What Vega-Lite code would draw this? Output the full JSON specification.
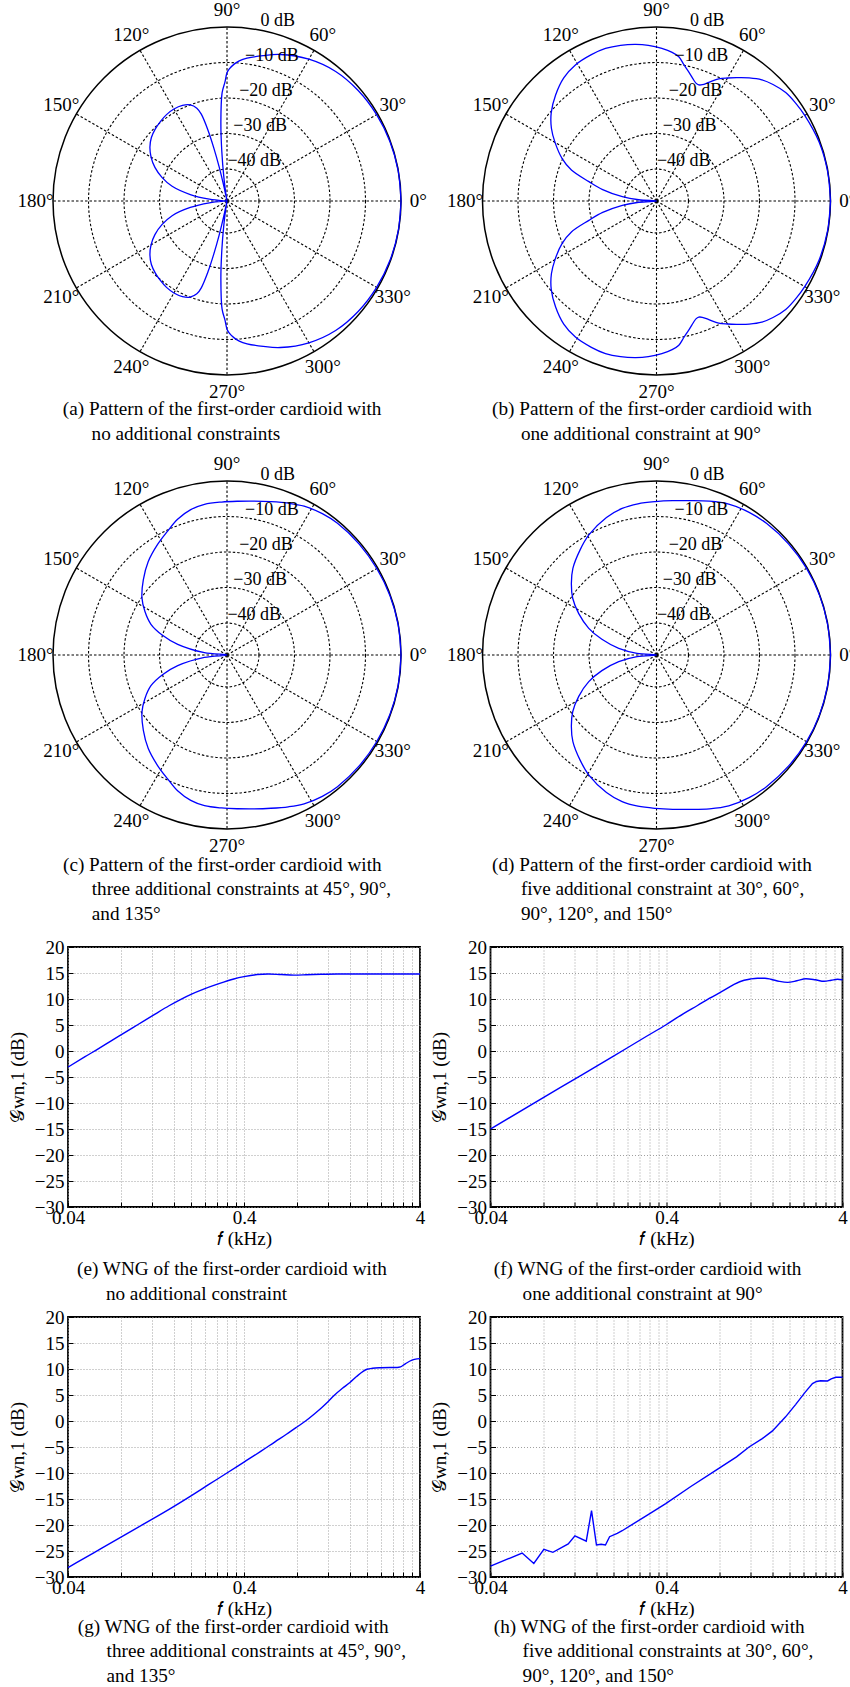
{
"$schema": "https://vega.github.io/schema/vega-lite/v6.json",
"padding": {"left": 7, "top": 0, "right": 0, "bottom": 0},
"bounds": "flush",
"align": "each",
"columns": 2,
"spacing": {"row": 110, "column": 70.5},
"config": {
  "view": {"stroke": null},
  "font": "Liberation Serif",
  "axis": {"labelFont": "Liberation Serif", "titleFont": "Liberation Serif", "labelFontSize": 19, "titleFontSize": 19, "titleFontWeight": "normal", "labelColor": "black", "titleColor": "black", "domain": false, "grid": true, "gridColor": "#a0a0a0", "gridDash": [1, 2], "gridWidth": 1, "tickColor": "black", "tickWidth": 1, "labelFlush": false, "labelOverlap": false},
  "axisX": {"labelPadding": 6, "titlePadding": 2},
  "axisY": {"labelPadding": 9, "titlePadding": 7},
  "title": {"font": "Liberation Serif", "fontSize": 19.2, "fontWeight": "normal", "color": "black", "anchor": "start", "frame": "group", "lineHeight": 24.5},
  "text": {"font": "Liberation Serif", "fontSize": 19, "color": "black"}
},
"datasets": {
  "angles": [{"a":0,"t":"0°"},{"a":30,"t":"30°"},{"a":60,"t":"60°"},{"a":90,"t":"90°"},{"a":120,"t":"120°"},{"a":150,"t":"150°"},{"a":180,"t":"180°"},{"a":210,"t":"210°"},{"a":240,"t":"240°"},{"a":270,"t":"270°"},{"a":300,"t":"300°"},{"a":330,"t":"330°"}],
  "spokes": [{"a":0,"lvl":-49},{"a":0,"lvl":0},{"a":30,"lvl":-49},{"a":30,"lvl":0},{"a":60,"lvl":-49},{"a":60,"lvl":0},{"a":90,"lvl":-49},{"a":90,"lvl":0},{"a":120,"lvl":-49},{"a":120,"lvl":0},{"a":150,"lvl":-49},{"a":150,"lvl":0},{"a":180,"lvl":-49},{"a":180,"lvl":0},{"a":210,"lvl":-49},{"a":210,"lvl":0},{"a":240,"lvl":-49},{"a":240,"lvl":0},{"a":270,"lvl":-49},{"a":270,"lvl":0},{"a":300,"lvl":-49},{"a":300,"lvl":0},{"a":330,"lvl":-49},{"a":330,"lvl":0}],
  "rings": [{"lvl":-10},{"lvl":-20},{"lvl":-30},{"lvl":-40}],
  "outer": [{"lvl":0}],
  "dbl": [{"lvl":0,"t":"0 dB"},{"lvl":-10,"t":"−10 dB"},{"lvl":-20,"t":"−20 dB"},{"lvl":-30,"t":"−30 dB"},{"lvl":-40,"t":"−40 dB"}],
  "pa": [{"a":0,"lvl":0},{"a":10,"lvl":-0.05},{"a":20,"lvl":-0.15},{"a":30,"lvl":-0.35},{"a":40,"lvl":-0.7},{"a":50,"lvl":-1.4},{"a":60,"lvl":-2.9},{"a":70,"lvl":-5.1},{"a":76,"lvl":-6.8},{"a":82,"lvl":-8.4},{"a":85,"lvl":-9.4},{"a":87,"lvl":-10.4},{"a":89,"lvl":-11.8},{"a":90,"lvl":-12.9},{"a":91,"lvl":-15.5},{"a":92.6,"lvl":-18.5},{"a":94.5,"lvl":-27},{"a":96,"lvl":-35},{"a":97.5,"lvl":-42},{"a":99,"lvl":-47},{"a":100.5,"lvl":-49},{"a":102,"lvl":-45},{"a":103,"lvl":-39},{"a":104,"lvl":-33.5},{"a":105,"lvl":-28.5},{"a":106.5,"lvl":-23.5},{"a":108,"lvl":-21.5},{"a":111,"lvl":-20},{"a":115,"lvl":-19.3},{"a":120,"lvl":-19.1},{"a":125,"lvl":-19.3},{"a":130,"lvl":-19.8},{"a":135,"lvl":-20.4},{"a":140,"lvl":-21.2},{"a":145,"lvl":-22.5},{"a":150,"lvl":-24.3},{"a":155,"lvl":-26.6},{"a":160,"lvl":-29.5},{"a":165,"lvl":-33},{"a":170,"lvl":-38.5},{"a":174,"lvl":-44},{"a":177,"lvl":-48},{"a":180,"lvl":-49},{"a":183,"lvl":-48},{"a":186,"lvl":-44},{"a":190,"lvl":-38.5},{"a":195,"lvl":-33},{"a":200,"lvl":-29.5},{"a":205,"lvl":-26.6},{"a":210,"lvl":-24.3},{"a":215,"lvl":-22.5},{"a":220,"lvl":-21.2},{"a":225,"lvl":-20.4},{"a":230,"lvl":-19.8},{"a":235,"lvl":-19.3},{"a":240,"lvl":-19.1},{"a":245,"lvl":-19.3},{"a":249,"lvl":-20},{"a":252,"lvl":-21.5},{"a":253.5,"lvl":-23.5},{"a":255,"lvl":-28.5},{"a":256,"lvl":-33.5},{"a":257,"lvl":-39},{"a":258,"lvl":-45},{"a":259.5,"lvl":-49},{"a":261,"lvl":-47},{"a":262.5,"lvl":-42},{"a":264,"lvl":-35},{"a":265.5,"lvl":-27},{"a":267.4,"lvl":-18.5},{"a":269,"lvl":-15.5},{"a":270,"lvl":-12.9},{"a":271,"lvl":-11.8},{"a":273,"lvl":-10.4},{"a":275,"lvl":-9.4},{"a":278,"lvl":-8.4},{"a":284,"lvl":-6.8},{"a":290,"lvl":-5.1},{"a":300,"lvl":-2.9},{"a":310,"lvl":-1.4},{"a":320,"lvl":-0.7},{"a":330,"lvl":-0.35},{"a":340,"lvl":-0.15},{"a":350,"lvl":-0.05},{"a":360,"lvl":0}],
  "pb": [{"a":0,"lvl":0},{"a":10,"lvl":-0.1},{"a":20,"lvl":-0.3},{"a":30,"lvl":-0.8},{"a":35,"lvl":-1.1},{"a":40,"lvl":-1.5},{"a":45,"lvl":-2.6},{"a":49,"lvl":-3.8},{"a":53,"lvl":-5.6},{"a":57,"lvl":-7.6},{"a":60,"lvl":-9.0},{"a":63,"lvl":-10.4},{"a":66.2,"lvl":-12.5},{"a":68.5,"lvl":-13.8},{"a":70,"lvl":-14.2},{"a":71.5,"lvl":-14.0},{"a":72.9,"lvl":-13.35},{"a":76,"lvl":-11.5},{"a":78.7,"lvl":-9.8},{"a":81.2,"lvl":-7.9},{"a":84,"lvl":-6.9},{"a":88,"lvl":-6.0},{"a":93,"lvl":-5.1},{"a":97.6,"lvl":-4.5},{"a":103,"lvl":-4.0},{"a":108.5,"lvl":-3.7},{"a":114,"lvl":-3.9},{"a":120.8,"lvl":-4.4},{"a":127,"lvl":-5.6},{"a":133.6,"lvl":-7.8},{"a":140,"lvl":-10.3},{"a":145.3,"lvl":-13.0},{"a":150,"lvl":-16},{"a":155.7,"lvl":-19.8},{"a":160,"lvl":-23.5},{"a":164,"lvl":-29.2},{"a":168,"lvl":-33.5},{"a":172.8,"lvl":-39.3},{"a":176,"lvl":-44},{"a":180,"lvl":-49},{"a":184,"lvl":-44},{"a":187.2,"lvl":-39.3},{"a":192,"lvl":-33.5},{"a":196,"lvl":-29.2},{"a":200,"lvl":-23.5},{"a":204.3,"lvl":-19.8},{"a":210,"lvl":-16},{"a":214.7,"lvl":-13.0},{"a":220,"lvl":-10.3},{"a":226.4,"lvl":-7.8},{"a":233,"lvl":-5.6},{"a":239.2,"lvl":-4.4},{"a":246,"lvl":-3.9},{"a":251.5,"lvl":-3.7},{"a":257,"lvl":-4.0},{"a":262.4,"lvl":-4.5},{"a":267,"lvl":-5.1},{"a":272,"lvl":-6.0},{"a":276,"lvl":-6.9},{"a":278.8,"lvl":-7.9},{"a":281.3,"lvl":-9.8},{"a":284,"lvl":-11.5},{"a":287.1,"lvl":-13.35},{"a":288.5,"lvl":-14.0},{"a":290,"lvl":-14.2},{"a":291.5,"lvl":-13.8},{"a":293.8,"lvl":-12.5},{"a":297,"lvl":-10.4},{"a":300,"lvl":-9.0},{"a":303,"lvl":-7.6},{"a":307,"lvl":-5.6},{"a":311,"lvl":-3.8},{"a":315,"lvl":-2.6},{"a":320,"lvl":-1.5},{"a":325,"lvl":-1.1},{"a":330,"lvl":-0.8},{"a":340,"lvl":-0.3},{"a":350,"lvl":-0.1},{"a":360,"lvl":0}],
  "pc": [{"a":0,"lvl":0},{"a":10,"lvl":-0.05},{"a":20,"lvl":-0.15},{"a":30,"lvl":-0.3},{"a":40,"lvl":-0.4},{"a":50,"lvl":-0.6},{"a":56,"lvl":-1.0},{"a":62.6,"lvl":-1.8},{"a":68,"lvl":-2.9},{"a":74,"lvl":-4.1},{"a":80,"lvl":-5.0},{"a":86,"lvl":-5.6},{"a":92,"lvl":-5.9},{"a":98.5,"lvl":-6.1},{"a":104,"lvl":-6.8},{"a":110,"lvl":-8.3},{"a":115.6,"lvl":-10.3},{"a":122,"lvl":-12.2},{"a":130.2,"lvl":-14.6},{"a":138,"lvl":-17.3},{"a":146,"lvl":-20.1},{"a":152,"lvl":-22.8},{"a":158,"lvl":-25.9},{"a":163,"lvl":-30},{"a":167.8,"lvl":-34.8},{"a":174,"lvl":-42.6},{"a":180,"lvl":-49},{"a":186,"lvl":-42.6},{"a":192.2,"lvl":-34.8},{"a":197,"lvl":-30},{"a":202,"lvl":-25.9},{"a":208,"lvl":-22.8},{"a":214,"lvl":-20.1},{"a":222,"lvl":-17.3},{"a":229.8,"lvl":-14.6},{"a":238,"lvl":-12.2},{"a":244.4,"lvl":-10.3},{"a":250,"lvl":-8.3},{"a":256,"lvl":-6.8},{"a":261.5,"lvl":-6.1},{"a":268,"lvl":-5.9},{"a":274,"lvl":-5.6},{"a":280,"lvl":-5.0},{"a":286,"lvl":-4.1},{"a":292,"lvl":-2.9},{"a":297.4,"lvl":-1.8},{"a":304,"lvl":-1.0},{"a":310,"lvl":-0.6},{"a":320,"lvl":-0.4},{"a":330,"lvl":-0.3},{"a":340,"lvl":-0.15},{"a":350,"lvl":-0.05},{"a":360,"lvl":0}],
  "pd": [{"a":0,"lvl":0},{"a":10,"lvl":-0.05},{"a":20,"lvl":-0.1},{"a":30,"lvl":-0.2},{"a":40,"lvl":-0.4},{"a":50,"lvl":-0.7},{"a":57,"lvl":-1.1},{"a":64.4,"lvl":-1.9},{"a":71,"lvl":-3.2},{"a":78.2,"lvl":-4.6},{"a":84,"lvl":-5.3},{"a":90.4,"lvl":-5.8},{"a":97,"lvl":-6.1},{"a":103.2,"lvl":-6.6},{"a":110,"lvl":-7.8},{"a":119.4,"lvl":-10.2},{"a":126,"lvl":-12.4},{"a":134,"lvl":-15.1},{"a":140,"lvl":-17.7},{"a":145.9,"lvl":-20.5},{"a":152,"lvl":-24.2},{"a":158.5,"lvl":-28.5},{"a":164,"lvl":-33},{"a":170,"lvl":-38.2},{"a":175,"lvl":-43.5},{"a":180,"lvl":-49},{"a":185,"lvl":-43.5},{"a":190,"lvl":-38.2},{"a":196,"lvl":-33},{"a":201.5,"lvl":-28.5},{"a":208,"lvl":-24.2},{"a":214.1,"lvl":-20.5},{"a":220,"lvl":-17.7},{"a":226,"lvl":-15.1},{"a":234,"lvl":-12.4},{"a":240.6,"lvl":-10.2},{"a":250,"lvl":-7.8},{"a":256.8,"lvl":-6.6},{"a":263,"lvl":-6.1},{"a":269.6,"lvl":-5.8},{"a":276,"lvl":-5.3},{"a":281.8,"lvl":-4.6},{"a":289,"lvl":-3.2},{"a":295.6,"lvl":-1.9},{"a":303,"lvl":-1.1},{"a":310,"lvl":-0.7},{"a":320,"lvl":-0.4},{"a":330,"lvl":-0.2},{"a":340,"lvl":-0.1},{"a":350,"lvl":-0.05},{"a":360,"lvl":0}],
  "we": [{"f":0.04,"g":-3.1},{"f":0.05,"g":-1.1},{"f":0.06,"g":0.5},{"f":0.07,"g":1.9},{"f":0.08,"g":3.1},{"f":0.1,"g":5.1},{"f":0.125,"g":7.1},{"f":0.15,"g":8.7},{"f":0.174,"g":9.9},{"f":0.2,"g":10.9},{"f":0.236,"g":11.9},{"f":0.28,"g":12.8},{"f":0.35,"g":13.85},{"f":0.4,"g":14.3},{"f":0.475,"g":14.7},{"f":0.55,"g":14.8},{"f":0.65,"g":14.7},{"f":0.768,"g":14.6},{"f":0.9,"g":14.65},{"f":1.1,"g":14.75},{"f":1.36,"g":14.8},{"f":2,"g":14.8},{"f":3,"g":14.8},{"f":4,"g":14.8}],
  "wf": [{"f":0.04,"g":-15},{"f":0.1,"g":-7.0},{"f":0.2,"g":-1.0},{"f":0.3,"g":2.6},{"f":0.4,"g":5.1},{"f":0.5,"g":7.2},{"f":0.6,"g":8.75},{"f":0.7,"g":10.1},{"f":0.831,"g":11.5},{"f":0.968,"g":12.8},{"f":1.104,"g":13.6},{"f":1.2,"g":13.85},{"f":1.315,"g":14.0},{"f":1.45,"g":14.0},{"f":1.567,"g":13.8},{"f":1.75,"g":13.4},{"f":1.95,"g":13.2},{"f":2.2,"g":13.5},{"f":2.48,"g":13.9},{"f":2.8,"g":13.7},{"f":3.15,"g":13.4},{"f":3.45,"g":13.6},{"f":3.75,"g":13.8},{"f":4,"g":13.7}],
  "wg": [{"f":0.04,"g":-28.2},{"f":0.056,"g":-25.35},{"f":0.08,"g":-22.33},{"f":0.108,"g":-19.8},{"f":0.15,"g":-17.0},{"f":0.2,"g":-14.4},{"f":0.25,"g":-12.3},{"f":0.32,"g":-10.0},{"f":0.4,"g":-7.9},{"f":0.5,"g":-5.8},{"f":0.6,"g":-4.0},{"f":0.7,"g":-2.5},{"f":0.8,"g":-1.15},{"f":0.895,"g":0},{"f":1.0,"g":1.3},{"f":1.1,"g":2.5},{"f":1.2,"g":3.7},{"f":1.3,"g":4.9},{"f":1.45,"g":6.3},{"f":1.6,"g":7.4},{"f":1.75,"g":8.6},{"f":1.9,"g":9.55},{"f":2.0,"g":9.95},{"f":2.15,"g":10.15},{"f":2.4,"g":10.25},{"f":2.7,"g":10.3},{"f":2.97,"g":10.3},{"f":3.1,"g":10.4},{"f":3.3,"g":11.0},{"f":3.6,"g":11.7},{"f":3.85,"g":11.95},{"f":4,"g":12.0}],
  "wh": [{"f":0.04,"g":-27.9},{"f":0.0605,"g":-25.4},{"f":0.0705,"g":-27.4},{"f":0.0804,"g":-24.7},{"f":0.0905,"g":-25.25},{"f":0.1106,"g":-23.65},{"f":0.1207,"g":-22.1},{"f":0.14,"g":-23.1},{"f":0.15,"g":-17.25},{"f":0.16,"g":-23.85},{"f":0.17,"g":-23.7},{"f":0.18,"g":-23.85},{"f":0.19,"g":-22.25},{"f":0.21,"g":-21.6},{"f":0.224,"g":-21.1},{"f":0.318,"g":-17.9},{"f":0.396,"g":-15.9},{"f":0.55,"g":-12.6},{"f":0.762,"g":-9.5},{"f":1.0,"g":-6.9},{"f":1.178,"g":-5.0},{"f":1.4,"g":-3.4},{"f":1.6,"g":-1.9},{"f":1.9,"g":0.8},{"f":2.17,"g":3.2},{"f":2.45,"g":5.5},{"f":2.7,"g":7.2},{"f":2.85,"g":7.6},{"f":3.0,"g":7.75},{"f":3.29,"g":7.7},{"f":3.45,"g":8.1},{"f":3.66,"g":8.4},{"f":4,"g":8.4}]
},
"concat": [
  {"width": 352, "height": 348,
   "title": {"text": ["(a) Pattern of the first-order cardioid with", "\u200b\u00a0\u00a0\u00a0\u00a0\u00a0\u00a0no additional constraints"], "orient": "bottom", "offset": -2, "dx": -5.2},
   "layer": [
    {"data": {"name": "rings"}, "transform": [{"calculate": "datum.lvl+49", "as": "rr"}, {"calculate": "0", "as": "cx"}],
     "mark": {"type": "point", "shape": "circle", "filled": false, "color": "black", "opacity": 1, "strokeWidth": 1.1, "strokeDash": [2.5, 2]},
     "encoding": {"x": {"field": "cx", "type": "quantitative", "scale": {"domain": [-44.78, 54.35], "nice": false, "zero": false}, "axis": null}, "y": {"field": "cx", "type": "quantitative", "scale": {"domain": [-49, 49], "nice": false, "zero": false}, "axis": null}, "size": {"field": "rr", "type": "quantitative", "scale": {"type": "pow", "exponent": 2, "domain": [0, 49], "range": [0, 121104]}, "legend": null}}},
    {"data": {"name": "outer"}, "transform": [{"calculate": "datum.lvl+49", "as": "rr"}, {"calculate": "0", "as": "cx"}],
     "mark": {"type": "point", "shape": "circle", "filled": false, "color": "black", "opacity": 1, "strokeWidth": 1.5},
     "encoding": {"x": {"field": "cx", "type": "quantitative", "axis": null}, "y": {"field": "cx", "type": "quantitative", "axis": null}, "size": {"field": "rr", "type": "quantitative", "scale": {"type": "pow", "exponent": 2, "domain": [0, 49], "range": [0, 121104]}, "legend": null}}},
    {"data": {"name": "spokes"}, "transform": [{"calculate": "(datum.lvl+49)*cos(datum.a*PI/180)", "as": "px"}, {"calculate": "(datum.lvl+49)*sin(datum.a*PI/180)", "as": "py"}],
     "mark": {"type": "line", "color": "black", "strokeWidth": 1.1, "strokeDash": [2.5, 2]},
     "encoding": {"x": {"field": "px", "type": "quantitative", "axis": null}, "y": {"field": "py", "type": "quantitative", "axis": null}, "detail": {"field": "a", "type": "nominal"}, "order": {"field": "lvl", "type": "quantitative"}}},
    {"data": {"name": "pa"}, "transform": [{"calculate": "(datum.lvl+49)*cos(datum.a*PI/180)", "as": "px"}, {"calculate": "(datum.lvl+49)*sin(datum.a*PI/180)", "as": "py"}],
     "mark": {"type": "line", "color": "#0000ff", "strokeWidth": 1.3, "interpolate": "catmull-rom"},
     "encoding": {"x": {"field": "px", "type": "quantitative", "axis": null}, "y": {"field": "py", "type": "quantitative", "axis": null}, "order": {"field": "a", "type": "quantitative"}}},
    {"data": {"name": "angles"}, "transform": [{"calculate": "53.9*cos(datum.a*PI/180)", "as": "lx"}, {"calculate": "53.9*sin(datum.a*PI/180)", "as": "ly"}],
     "mark": {"type": "text", "fontSize": 19, "align": "center", "baseline": "middle"},
     "encoding": {"x": {"field": "lx", "type": "quantitative", "axis": null}, "y": {"field": "ly", "type": "quantitative", "axis": null}, "text": {"field": "t", "type": "nominal"}}},
    {"data": {"name": "dbl"}, "transform": [{"calculate": "(datum.lvl+49)*0.16505", "as": "lx"}, {"calculate": "(datum.lvl+49)*0.98629", "as": "ly"}],
     "mark": {"type": "text", "fontSize": 18, "align": "center", "baseline": "middle", "dx": 22, "dy": -8},
     "encoding": {"x": {"field": "lx", "type": "quantitative", "axis": null}, "y": {"field": "ly", "type": "quantitative", "axis": null}, "text": {"field": "t", "type": "nominal"}}}
   ]},
  {"width": 352, "height": 348,
   "title": {"text": ["(b) Pattern of the first-order cardioid with", "\u200b\u00a0\u00a0\u00a0\u00a0\u00a0\u00a0one additional constraint at 90°"], "orient": "bottom", "offset": -2, "dx": 1.6},
   "layer": [
    {"data": {"name": "rings"}, "transform": [{"calculate": "datum.lvl+49", "as": "rr"}, {"calculate": "0", "as": "cx"}],
     "mark": {"type": "point", "shape": "circle", "filled": false, "color": "black", "opacity": 1, "strokeWidth": 1.1, "strokeDash": [2.5, 2]},
     "encoding": {"x": {"field": "cx", "type": "quantitative", "scale": {"domain": [-46.75, 52.38], "nice": false, "zero": false}, "axis": null}, "y": {"field": "cx", "type": "quantitative", "scale": {"domain": [-49, 49], "nice": false, "zero": false}, "axis": null}, "size": {"field": "rr", "type": "quantitative", "scale": {"type": "pow", "exponent": 2, "domain": [0, 49], "range": [0, 121104]}, "legend": null}}},
    {"data": {"name": "outer"}, "transform": [{"calculate": "datum.lvl+49", "as": "rr"}, {"calculate": "0", "as": "cx"}],
     "mark": {"type": "point", "shape": "circle", "filled": false, "color": "black", "opacity": 1, "strokeWidth": 1.5},
     "encoding": {"x": {"field": "cx", "type": "quantitative", "axis": null}, "y": {"field": "cx", "type": "quantitative", "axis": null}, "size": {"field": "rr", "type": "quantitative", "scale": {"type": "pow", "exponent": 2, "domain": [0, 49], "range": [0, 121104]}, "legend": null}}},
    {"data": {"name": "spokes"}, "transform": [{"calculate": "(datum.lvl+49)*cos(datum.a*PI/180)", "as": "px"}, {"calculate": "(datum.lvl+49)*sin(datum.a*PI/180)", "as": "py"}],
     "mark": {"type": "line", "color": "black", "strokeWidth": 1.1, "strokeDash": [2.5, 2]},
     "encoding": {"x": {"field": "px", "type": "quantitative", "axis": null}, "y": {"field": "py", "type": "quantitative", "axis": null}, "detail": {"field": "a", "type": "nominal"}, "order": {"field": "lvl", "type": "quantitative"}}},
    {"data": {"name": "pb"}, "transform": [{"calculate": "(datum.lvl+49)*cos(datum.a*PI/180)", "as": "px"}, {"calculate": "(datum.lvl+49)*sin(datum.a*PI/180)", "as": "py"}],
     "mark": {"type": "line", "color": "#0000ff", "strokeWidth": 1.3, "interpolate": "catmull-rom"},
     "encoding": {"x": {"field": "px", "type": "quantitative", "axis": null}, "y": {"field": "py", "type": "quantitative", "axis": null}, "order": {"field": "a", "type": "quantitative"}}},
    {"data": {"name": "angles"}, "transform": [{"calculate": "53.9*cos(datum.a*PI/180)", "as": "lx"}, {"calculate": "53.9*sin(datum.a*PI/180)", "as": "ly"}],
     "mark": {"type": "text", "fontSize": 19, "align": "center", "baseline": "middle"},
     "encoding": {"x": {"field": "lx", "type": "quantitative", "axis": null}, "y": {"field": "ly", "type": "quantitative", "axis": null}, "text": {"field": "t", "type": "nominal"}}},
    {"data": {"name": "dbl"}, "transform": [{"calculate": "(datum.lvl+49)*0.16505", "as": "lx"}, {"calculate": "(datum.lvl+49)*0.98629", "as": "ly"}],
     "mark": {"type": "text", "fontSize": 18, "align": "center", "baseline": "middle", "dx": 22, "dy": -8},
     "encoding": {"x": {"field": "lx", "type": "quantitative", "axis": null}, "y": {"field": "ly", "type": "quantitative", "axis": null}, "text": {"field": "t", "type": "nominal"}}}
   ]},
  {"width": 352, "height": 351.5,
   "title": {"text": ["(c) Pattern of the first-order cardioid with", "\u200b\u00a0\u00a0\u00a0\u00a0\u00a0\u00a0three additional constraints at 45°, 90°,", "\u200b\u00a0\u00a0\u00a0\u00a0\u00a0\u00a0and 135°"], "orient": "bottom", "offset": -0.5, "dx": -5},
   "layer": [
    {"data": {"name": "rings"}, "transform": [{"calculate": "datum.lvl+49", "as": "rr"}, {"calculate": "0", "as": "cx"}],
     "mark": {"type": "point", "shape": "circle", "filled": false, "color": "black", "opacity": 1, "strokeWidth": 1.1, "strokeDash": [2.5, 2]},
     "encoding": {"x": {"field": "cx", "type": "quantitative", "scale": {"domain": [-44.78, 54.35], "nice": false, "zero": false}, "axis": null}, "y": {"field": "cx", "type": "quantitative", "scale": {"domain": [-51.11, 47.87], "nice": false, "zero": false}, "axis": null}, "size": {"field": "rr", "type": "quantitative", "scale": {"type": "pow", "exponent": 2, "domain": [0, 49], "range": [0, 121104]}, "legend": null}}},
    {"data": {"name": "outer"}, "transform": [{"calculate": "datum.lvl+49", "as": "rr"}, {"calculate": "0", "as": "cx"}],
     "mark": {"type": "point", "shape": "circle", "filled": false, "color": "black", "opacity": 1, "strokeWidth": 1.5},
     "encoding": {"x": {"field": "cx", "type": "quantitative", "axis": null}, "y": {"field": "cx", "type": "quantitative", "axis": null}, "size": {"field": "rr", "type": "quantitative", "scale": {"type": "pow", "exponent": 2, "domain": [0, 49], "range": [0, 121104]}, "legend": null}}},
    {"data": {"name": "spokes"}, "transform": [{"calculate": "(datum.lvl+49)*cos(datum.a*PI/180)", "as": "px"}, {"calculate": "(datum.lvl+49)*sin(datum.a*PI/180)", "as": "py"}],
     "mark": {"type": "line", "color": "black", "strokeWidth": 1.1, "strokeDash": [2.5, 2]},
     "encoding": {"x": {"field": "px", "type": "quantitative", "axis": null}, "y": {"field": "py", "type": "quantitative", "axis": null}, "detail": {"field": "a", "type": "nominal"}, "order": {"field": "lvl", "type": "quantitative"}}},
    {"data": {"name": "pc"}, "transform": [{"calculate": "(datum.lvl+49)*cos(datum.a*PI/180)", "as": "px"}, {"calculate": "(datum.lvl+49)*sin(datum.a*PI/180)", "as": "py"}],
     "mark": {"type": "line", "color": "#0000ff", "strokeWidth": 1.3, "interpolate": "catmull-rom"},
     "encoding": {"x": {"field": "px", "type": "quantitative", "axis": null}, "y": {"field": "py", "type": "quantitative", "axis": null}, "order": {"field": "a", "type": "quantitative"}}},
    {"data": {"name": "angles"}, "transform": [{"calculate": "53.9*cos(datum.a*PI/180)", "as": "lx"}, {"calculate": "53.9*sin(datum.a*PI/180)", "as": "ly"}],
     "mark": {"type": "text", "fontSize": 19, "align": "center", "baseline": "middle"},
     "encoding": {"x": {"field": "lx", "type": "quantitative", "axis": null}, "y": {"field": "ly", "type": "quantitative", "axis": null}, "text": {"field": "t", "type": "nominal"}}},
    {"data": {"name": "dbl"}, "transform": [{"calculate": "(datum.lvl+49)*0.16505", "as": "lx"}, {"calculate": "(datum.lvl+49)*0.98629", "as": "ly"}],
     "mark": {"type": "text", "fontSize": 18, "align": "center", "baseline": "middle", "dx": 22, "dy": -8},
     "encoding": {"x": {"field": "lx", "type": "quantitative", "axis": null}, "y": {"field": "ly", "type": "quantitative", "axis": null}, "text": {"field": "t", "type": "nominal"}}}
   ]},
  {"width": 352, "height": 351.5,
   "title": {"text": ["(d) Pattern of the first-order cardioid with", "\u200b\u00a0\u00a0\u00a0\u00a0\u00a0\u00a0five additional constraint at 30°, 60°,", "\u200b\u00a0\u00a0\u00a0\u00a0\u00a0\u00a090°, 120°, and 150°"], "orient": "bottom", "offset": -0.5, "dx": 1.6},
   "layer": [
    {"data": {"name": "rings"}, "transform": [{"calculate": "datum.lvl+49", "as": "rr"}, {"calculate": "0", "as": "cx"}],
     "mark": {"type": "point", "shape": "circle", "filled": false, "color": "black", "opacity": 1, "strokeWidth": 1.1, "strokeDash": [2.5, 2]},
     "encoding": {"x": {"field": "cx", "type": "quantitative", "scale": {"domain": [-46.75, 52.38], "nice": false, "zero": false}, "axis": null}, "y": {"field": "cx", "type": "quantitative", "scale": {"domain": [-51.11, 47.87], "nice": false, "zero": false}, "axis": null}, "size": {"field": "rr", "type": "quantitative", "scale": {"type": "pow", "exponent": 2, "domain": [0, 49], "range": [0, 121104]}, "legend": null}}},
    {"data": {"name": "outer"}, "transform": [{"calculate": "datum.lvl+49", "as": "rr"}, {"calculate": "0", "as": "cx"}],
     "mark": {"type": "point", "shape": "circle", "filled": false, "color": "black", "opacity": 1, "strokeWidth": 1.5},
     "encoding": {"x": {"field": "cx", "type": "quantitative", "axis": null}, "y": {"field": "cx", "type": "quantitative", "axis": null}, "size": {"field": "rr", "type": "quantitative", "scale": {"type": "pow", "exponent": 2, "domain": [0, 49], "range": [0, 121104]}, "legend": null}}},
    {"data": {"name": "spokes"}, "transform": [{"calculate": "(datum.lvl+49)*cos(datum.a*PI/180)", "as": "px"}, {"calculate": "(datum.lvl+49)*sin(datum.a*PI/180)", "as": "py"}],
     "mark": {"type": "line", "color": "black", "strokeWidth": 1.1, "strokeDash": [2.5, 2]},
     "encoding": {"x": {"field": "px", "type": "quantitative", "axis": null}, "y": {"field": "py", "type": "quantitative", "axis": null}, "detail": {"field": "a", "type": "nominal"}, "order": {"field": "lvl", "type": "quantitative"}}},
    {"data": {"name": "pd"}, "transform": [{"calculate": "(datum.lvl+49)*cos(datum.a*PI/180)", "as": "px"}, {"calculate": "(datum.lvl+49)*sin(datum.a*PI/180)", "as": "py"}],
     "mark": {"type": "line", "color": "#0000ff", "strokeWidth": 1.3, "interpolate": "catmull-rom"},
     "encoding": {"x": {"field": "px", "type": "quantitative", "axis": null}, "y": {"field": "py", "type": "quantitative", "axis": null}, "order": {"field": "a", "type": "quantitative"}}},
    {"data": {"name": "angles"}, "transform": [{"calculate": "53.9*cos(datum.a*PI/180)", "as": "lx"}, {"calculate": "53.9*sin(datum.a*PI/180)", "as": "ly"}],
     "mark": {"type": "text", "fontSize": 19, "align": "center", "baseline": "middle"},
     "encoding": {"x": {"field": "lx", "type": "quantitative", "axis": null}, "y": {"field": "ly", "type": "quantitative", "axis": null}, "text": {"field": "t", "type": "nominal"}}},
    {"data": {"name": "dbl"}, "transform": [{"calculate": "(datum.lvl+49)*0.16505", "as": "lx"}, {"calculate": "(datum.lvl+49)*0.98629", "as": "ly"}],
     "mark": {"type": "text", "fontSize": 18, "align": "center", "baseline": "middle", "dx": 22, "dy": -8},
     "encoding": {"x": {"field": "lx", "type": "quantitative", "axis": null}, "y": {"field": "ly", "type": "quantitative", "axis": null}, "text": {"field": "t", "type": "nominal"}}}
   ]},
  {"width": 352, "height": 260, "view": {"stroke": "black", "strokeWidth": 1.8},
   "title": {"text": ["(e) WNG of the first-order cardioid with", "\u200b\u00a0\u00a0\u00a0\u00a0\u00a0\u00a0no additional constraint"], "orient": "bottom", "offset": 12, "dx": 9.1},
   "data": {"name": "we"}, "mark": {"type": "line", "color": "#0000ff", "strokeWidth": 1.4, "interpolate": "monotone"},
   "encoding": {"x": {"field": "f", "type": "quantitative", "scale": {"type": "log", "domain": [0.04, 4], "nice": false}, "axis": {"title": "𝑓 (kHz)", "values": [0.04,0.08,0.12,0.16,0.2,0.24,0.28,0.32,0.36,0.4,0.8,1.2,1.6,2,2.4,2.8,3.2,3.6,4], "labelExpr": "datum.value < 0.05 ? '0.04' : (datum.value > 0.39 && datum.value < 0.41) ? '0.4' : datum.value > 3.9 ? '4' : ''", "tickSize": -5}},
    "y": {"field": "g", "type": "quantitative", "scale": {"domain": [-30, 20], "nice": false, "zero": false}, "axis": {"title": "𝒢wn,1 (dB)", "values": [-30,-25,-20,-15,-10,-5,0,5,10,15,20], "tickSize": -5}}}},
  {"width": 352, "height": 260, "view": {"stroke": "black", "strokeWidth": 1.8},
   "title": {"text": ["(f) WNG of the first-order cardioid with", "\u200b\u00a0\u00a0\u00a0\u00a0\u00a0\u00a0one additional constraint at 90°"], "orient": "bottom", "offset": 12, "dx": 3.3},
   "data": {"name": "wf"}, "mark": {"type": "line", "color": "#0000ff", "strokeWidth": 1.4, "interpolate": "monotone"},
   "encoding": {"x": {"field": "f", "type": "quantitative", "scale": {"type": "log", "domain": [0.04, 4], "nice": false}, "axis": {"title": "𝑓 (kHz)", "values": [0.04,0.08,0.12,0.16,0.2,0.24,0.28,0.32,0.36,0.4,0.8,1.2,1.6,2,2.4,2.8,3.2,3.6,4], "labelExpr": "datum.value < 0.05 ? '0.04' : (datum.value > 0.39 && datum.value < 0.41) ? '0.4' : datum.value > 3.9 ? '4' : ''", "tickSize": -5}},
    "y": {"field": "g", "type": "quantitative", "scale": {"domain": [-30, 20], "nice": false, "zero": false}, "axis": {"title": "𝒢wn,1 (dB)", "values": [-30,-25,-20,-15,-10,-5,0,5,10,15,20], "tickSize": -5}}}},
  {"width": 352, "height": 260, "view": {"stroke": "black", "strokeWidth": 1.8},
   "title": {"text": ["(g) WNG of the first-order cardioid with", "\u200b\u00a0\u00a0\u00a0\u00a0\u00a0\u00a0three additional constraints at 45°, 90°,", "\u200b\u00a0\u00a0\u00a0\u00a0\u00a0\u00a0and 135°"], "orient": "bottom", "offset": -0.5, "dx": 9.8},
   "data": {"name": "wg"}, "mark": {"type": "line", "color": "#0000ff", "strokeWidth": 1.4, "interpolate": "monotone"},
   "encoding": {"x": {"field": "f", "type": "quantitative", "scale": {"type": "log", "domain": [0.04, 4], "nice": false}, "axis": {"title": "𝑓 (kHz)", "values": [0.04,0.08,0.12,0.16,0.2,0.24,0.28,0.32,0.36,0.4,0.8,1.2,1.6,2,2.4,2.8,3.2,3.6,4], "labelExpr": "datum.value < 0.05 ? '0.04' : (datum.value > 0.39 && datum.value < 0.41) ? '0.4' : datum.value > 3.9 ? '4' : ''", "tickSize": -5}},
    "y": {"field": "g", "type": "quantitative", "scale": {"domain": [-30, 20], "nice": false, "zero": false}, "axis": {"title": "𝒢wn,1 (dB)", "values": [-30,-25,-20,-15,-10,-5,0,5,10,15,20], "tickSize": -5}}}},
  {"width": 352, "height": 260, "view": {"stroke": "black", "strokeWidth": 1.8},
   "title": {"text": ["(h) WNG of the first-order cardioid with", "\u200b\u00a0\u00a0\u00a0\u00a0\u00a0\u00a0five additional constraints at 30°, 60°,", "\u200b\u00a0\u00a0\u00a0\u00a0\u00a0\u00a090°, 120°, and 150°"], "orient": "bottom", "offset": -0.5, "dx": 3.3},
   "data": {"name": "wh"}, "mark": {"type": "line", "color": "#0000ff", "strokeWidth": 1.4, "interpolate": "linear"},
   "encoding": {"x": {"field": "f", "type": "quantitative", "scale": {"type": "log", "domain": [0.04, 4], "nice": false}, "axis": {"title": "𝑓 (kHz)", "values": [0.04,0.08,0.12,0.16,0.2,0.24,0.28,0.32,0.36,0.4,0.8,1.2,1.6,2,2.4,2.8,3.2,3.6,4], "labelExpr": "datum.value < 0.05 ? '0.04' : (datum.value > 0.39 && datum.value < 0.41) ? '0.4' : datum.value > 3.9 ? '4' : ''", "tickSize": -5}},
    "y": {"field": "g", "type": "quantitative", "scale": {"domain": [-30, 20], "nice": false, "zero": false}, "axis": {"title": "𝒢wn,1 (dB)", "values": [-30,-25,-20,-15,-10,-5,0,5,10,15,20], "tickSize": -5}}}}
]
}
